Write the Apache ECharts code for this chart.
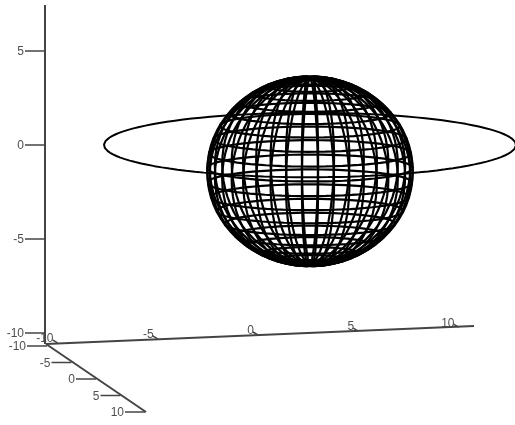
<!DOCTYPE html>
<html>
<head>
    <meta charset="utf-8">
    <title>sphere and ring</title>
    <script src="https://cdn.jsdelivr.net/npm/echarts@6/dist/echarts.min.js"></script>
    <style>
        html,body{margin:0;padding:0;background:#fff;}
        #container{width:515px;height:425px;}
    </style>
</head>
<body>
<div id="container"></div>
<script type="text/javascript">
    // tick values on the three axes
    var xTicks = [-10, -5, 0, 5, 10];
    var yTicks = [-10, -5, 0, 5, 10];
    var zTicks = [-10, -5, 0, 5];

    // wire mesh of the sphere, degrees
    var parallels = [-79, -70, -61, -52, -43, -34, -25, -16, -7, 2, 11, 20, 29, 38, 47, 56, 65, 74, 83];
    var meridians = [0.5, 9.5, 18.5, 27.5, 36.5, 45.5, 54.5, 63.5, 72.5, 81.5, 90.5, 99.5, 108.5, 117.5, 126.5, 135.5, 144.5, 153.5, 162.5, 171.5,
        180.5, 189.5, 198.5, 207.5, 216.5, 225.5, 234.5, 243.5, 252.5, 261.5, 270.5, 279.5, 288.5, 297.5, 306.5, 315.5, 324.5, 333.5, 342.5, 351.5];
    var sphereRadius = [5];
    var sphereCentreZ = [-1.4];
    var ringRadius = [10];

    // view of the 3d box on the page
    var view = {
        cx: 310, cy: 145,
        sx: 20.6, sz: 18.8,
        az: 14 * Math.PI / 180,
        el: 9 * Math.PI / 180,
        sphereEl: 7.5 * Math.PI / 180
    };

    function project(x, y, z, el) {
        var a = x * Math.cos(view.az) + y * Math.sin(view.az);
        var b = -x * Math.sin(view.az) + y * Math.cos(view.az);
        return [view.cx + view.sx * a, view.cy - view.sz * z + view.sx * b * Math.sin(el)];
    }

    function spherePoint(lat, lon) {
        var la = lat * Math.PI / 180, lo = lon * Math.PI / 180, r = sphereRadius[0];
        return project(r * Math.cos(la) * Math.cos(lo), r * Math.cos(la) * Math.sin(lo), sphereCentreZ[0] + r * Math.sin(la), view.sphereEl);
    }

    function wire(points, width, color) {
        return {
            type: 'line', data: points, showSymbol: false, silent: true, animation: false,
            clip: false, lineStyle: {color: color || '#000', width: width}
        };
    }

    var series = [];
    var i, k, pts;

    // sphere
    for (i = 0; i < parallels.length; i++) {
        pts = [];
        for (k = 0; k <= 72; k++) pts.push(spherePoint(parallels[i], k * 5));
        series.push(wire(pts, 2.2));
    }
    for (i = 0; i < meridians.length; i++) {
        pts = [];
        for (k = -18; k <= 18; k++) pts.push(spherePoint(k * 5, meridians[i]));
        series.push(wire(pts, 2.2));
    }

    // ring
    pts = [];
    for (k = 0; k <= 120; k++) {
        var t = k * 3 * Math.PI / 180;
        pts.push(project(ringRadius[0] * Math.cos(t), ringRadius[0] * Math.sin(t), 0, view.el));
    }
    series.push(wire(pts, 2));

    // axes: end points on the page
    var axisColor = '#444';
    var corner = [46, 344];
    function xAxisPoint(v) { return [258 + v * 20.05, 335 - v * 0.78]; }
    function yAxisPoint(v) { return [96 + v * 4.9, 379 + v * 3.3]; }
    function zAxisPoint(v) { return [45, 145 - v * 18.8]; }

    series.push(wire([[45, 5], [45, 344]], 2, axisColor));
    series.push(wire([corner, [474, 326]], 2, axisColor));
    series.push(wire([corner, [146, 412]], 2, axisColor));

    var labels = [];
    function addLabel(pos, text) { labels.push({value: pos, name: text}); }

    zTicks.forEach(function (v) {
        var p = zAxisPoint(v);
        series.push(wire([[p[0] - 20, p[1]], p], 1.5, axisColor));
        addLabel([p[0] - 21, p[1] + 1], String(v));
    });
    yTicks.forEach(function (v) {
        var p = yAxisPoint(v);
        series.push(wire([[p[0] - 20, p[1]], p], 1.5, axisColor));
        addLabel([p[0] - 21, p[1] + 1], String(v));
    });
    xTicks.forEach(function (v) {
        var p = xAxisPoint(v);
        series.push(wire([[p[0] - 5, p[1] - 3], p], 1.5, axisColor));
        addLabel([p[0] - 4, p[1] - 4], String(v));
    });

    series.push({
        type: 'scatter', data: labels, symbolSize: 0, silent: true, animation: false, clip: false,
        label: {
            show: true, position: 'left', distance: 0,
            formatter: function (p) { return p.name; },
            fontFamily: 'Liberation Sans', fontSize: 12, color: '#222'
        }
    });

    var mychart = echarts.init(document.getElementById('container'), null, {renderer: 'canvas'});
    mychart.setOption({
        backgroundColor: '#fff',
        animation: false,
        grid: {left: 0, right: 0, top: 0, bottom: 0},
        xAxis: {type: 'value', min: 0, max: 515, show: false},
        yAxis: {type: 'value', min: 0, max: 425, inverse: true, show: false},
        series: series
    });
</script>
</body>
</html>
